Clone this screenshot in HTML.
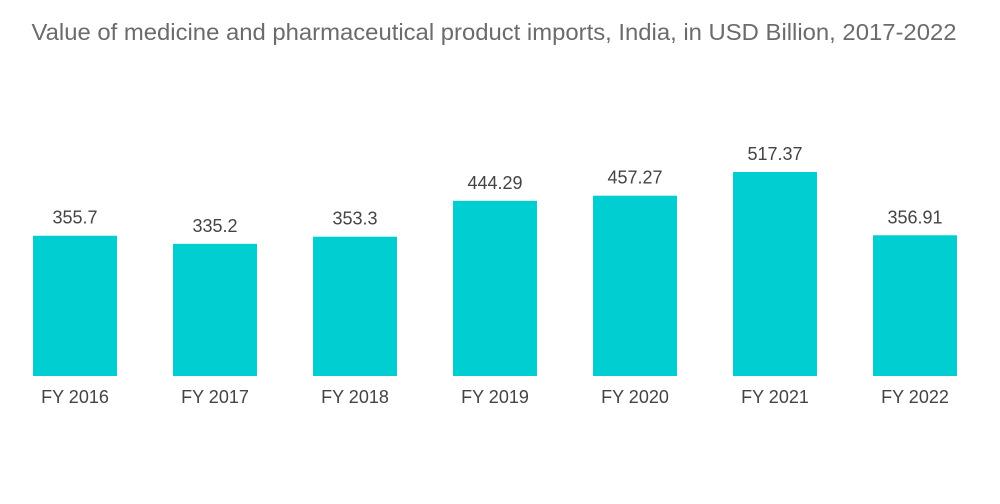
<!DOCTYPE html>
<html><head><meta charset="utf-8">
<style>
body{margin:0;background:#fff;font-family:"Liberation Sans",sans-serif;}
#wrap{position:relative;width:1000px;height:504px;overflow:hidden;}
</style></head>
<body>
<div id="wrap">
<svg id="chart" width="1000" height="504">
<text x="494" y="40" text-anchor="middle" font-size="23" textLength="925" lengthAdjust="spacingAndGlyphs" fill="#6b6b6b" font-family="Liberation Sans, sans-serif">Value of medicine and pharmaceutical product imports, India, in USD Billion, 2017-2022</text>
</svg>
</div>
<script>
const categories = ["FY 2016","FY 2017","FY 2018","FY 2019","FY 2020","FY 2021","FY 2022"];
const values = [355.7,335.2,353.3,444.29,457.27,517.37,356.91];
const valueLabels = ["355.7","335.2","353.3","444.29","457.27","517.37","356.91"];
const svg = document.getElementById('chart');
const NS = 'http://www.w3.org/2000/svg';
const baseY = 376, scale = 204/517.37, x0 = 33, step = 140, bw = 84;
function xPos(i){return x0 + i*step;}
function yPos(v){return baseY - v*scale;}
categories.forEach((c,i)=>{
  const r = document.createElementNS(NS,'rect');
  
  
  r.setAttribute('x',xPos(i));r.setAttribute('y',yPos(values[i]));
  r.setAttribute('width',bw);r.setAttribute('height',baseY-yPos(values[i]));
  r.setAttribute('fill','#00ced1');
  svg.appendChild(r);
  const t = document.createElementNS(NS,'text');
  
  
  t.setAttribute('x',xPos(i)+bw/2);t.setAttribute('y',yPos(values[i])-12);
  t.setAttribute('text-anchor','middle');t.setAttribute('font-size','18');t.setAttribute('fill','#444');
  t.textContent = valueLabels[i];
  svg.appendChild(t);
  const l = document.createElementNS(NS,'text');
  
  
  l.setAttribute('x',xPos(i)+bw/2);l.setAttribute('y',403);
  l.setAttribute('text-anchor','middle');l.setAttribute('font-size','18');l.setAttribute('fill','#444');
  l.textContent = c;
  svg.appendChild(l);
});
</script>
</body></html>
